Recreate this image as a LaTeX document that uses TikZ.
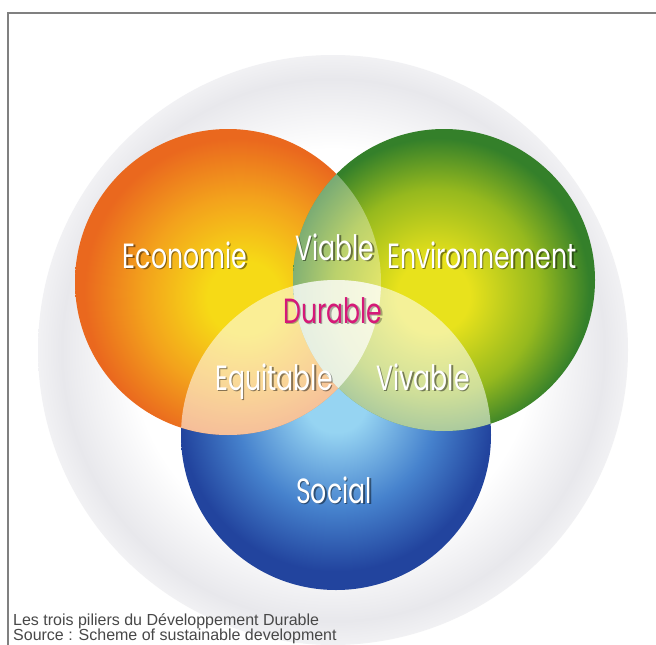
\documentclass[tikz,border=0pt]{standalone}
\usepackage{fontspec}
\setmainfont{Liberation Sans}
\newfontfamily\pillarfont{Poppins}
\usepackage{graphicx}

\definecolor{haloGray}{RGB}{232,232,236}
\definecolor{orngEdge}{RGB}{234,104,30}
\definecolor{orngMid}{RGB}{243,162,28}
\definecolor{orngCore}{RGB}{246,218,22}
\definecolor{grnEdge}{RGB}{52,128,42}
\definecolor{grnMid}{RGB}{150,185,30}
\definecolor{grnCore}{RGB}{232,226,28}
\definecolor{bluEdge}{RGB}{34,68,158}
\definecolor{bluMid}{RGB}{70,130,205}
\definecolor{bluCore}{RGB}{150,212,242}
\definecolor{durPink}{RGB}{214,24,120}
\definecolor{capGray}{RGB}{72,72,72}

\pgfdeclareradialshading{halo}{\pgfpoint{0bp}{0bp}}{color(0bp)=(white); color(17bp)=(white); color(23bp)=(haloGray); color(25bp)=(haloGray!60); color(50bp)=(white)}
\pgfdeclareradialshading{orangeball}{\pgfpoint{3bp}{-3bp}}{color(0bp)=(orngCore); color(6bp)=(orngCore); color(16bp)=(orngMid); color(25bp)=(orngEdge); color(50bp)=(orngEdge)}
\pgfdeclareradialshading{greenball}{\pgfpoint{-2bp}{-3bp}}{color(0bp)=(grnCore); color(6bp)=(grnCore); color(17bp)=(grnMid); color(25bp)=(grnEdge); color(50bp)=(grnEdge)}
\pgfdeclareradialshading{blueball}{\pgfpoint{0bp}{6bp}}{color(0bp)=(bluCore); color(5bp)=(bluCore); color(16bp)=(bluMid); color(25bp)=(bluEdge); color(50bp)=(bluEdge)}

\newcommand{\squeeze}[1]{\scalebox{.72}[1]{#1}}

\begin{document}
\begin{tikzpicture}[x=1pt,y=-1pt,
  pillar/.style={font=\pillarfont\fontsize{35}{35}\selectfont,text=white,inner sep=0pt,anchor=base},
  pillarshade/.style={pillar,text=black,opacity=.45},
  caption/.style={font=\fontsize{16}{16}\selectfont,text=capGray,inner sep=0pt,anchor=base west}]
\useasboundingbox (0,0) rectangle (656,645);
\fill[white] (0,0) rectangle (656,645);
\shade[shading=halo] (333,350) circle (295pt);
\draw[gray,line width=2pt] (8,650) -- (8,13) -- (662,13);
% the three pillars
\coordinate (eco) at (228,282);
\coordinate (envc) at (444,280);
\coordinate (soc) at (336,435);
\shade[shading=blueball] (soc) circle (155pt);
\shade[shading=orangeball] (eco) circle (153pt);
\shade[shading=greenball] (envc) circle (151pt);
% overlaps
\begin{scope}
\clip (eco) circle (153pt);
\fill[white,opacity=.35] (envc) circle (151pt);
\end{scope}
\begin{scope}
\clip (soc) circle (155pt);
\fill[white,opacity=.55] (eco) circle (153pt);
\fill[white,opacity=.55] (envc) circle (151pt);
\end{scope}
% labels
\node[pillarshade] (econ-s) at (186.5,269.5) {\squeeze{Economie}};
\node[pillar] (econ) at (185,268) {\squeeze{Economie}};
\node[pillarshade] (env-s) at (483.5,269.5) {\squeeze{Environnement}};
\node[pillar] (env) at (482,268) {\squeeze{Environnement}};
\node[pillarshade] (social-s) at (335.5,504.5) {\squeeze{Social}};
\node[pillar] (social) at (334,503) {\squeeze{Social}};
\node[pillarshade] (viab-s) at (336.5,261.5) {\squeeze{Viable}};
\node[pillar] (viab) at (335,260) {\squeeze{Viable}};
\node[pillarshade] (equi-s) at (275.5,391.5) {\squeeze{Equitable}};
\node[pillar] (equi) at (274,390) {\squeeze{Equitable}};
\node[pillarshade] (viv-s) at (424.5,391.5) {\squeeze{Vivable}};
\node[pillar] (viv) at (423,390) {\squeeze{Vivable}};
\node[pillarshade,opacity=.3] (dur-s) at (334.5,324.5) {\squeeze{Durable}};
\node[pillar,text=durPink] (dur) at (333,323) {\squeeze{Durable}};
% caption
\node[caption] (cap1) at (13,625) {Les trois piliers du Développement Durable};
\node[caption] (cap2) at (13,640) {Source : Scheme of sustainable development};
\end{tikzpicture}
\end{document}
